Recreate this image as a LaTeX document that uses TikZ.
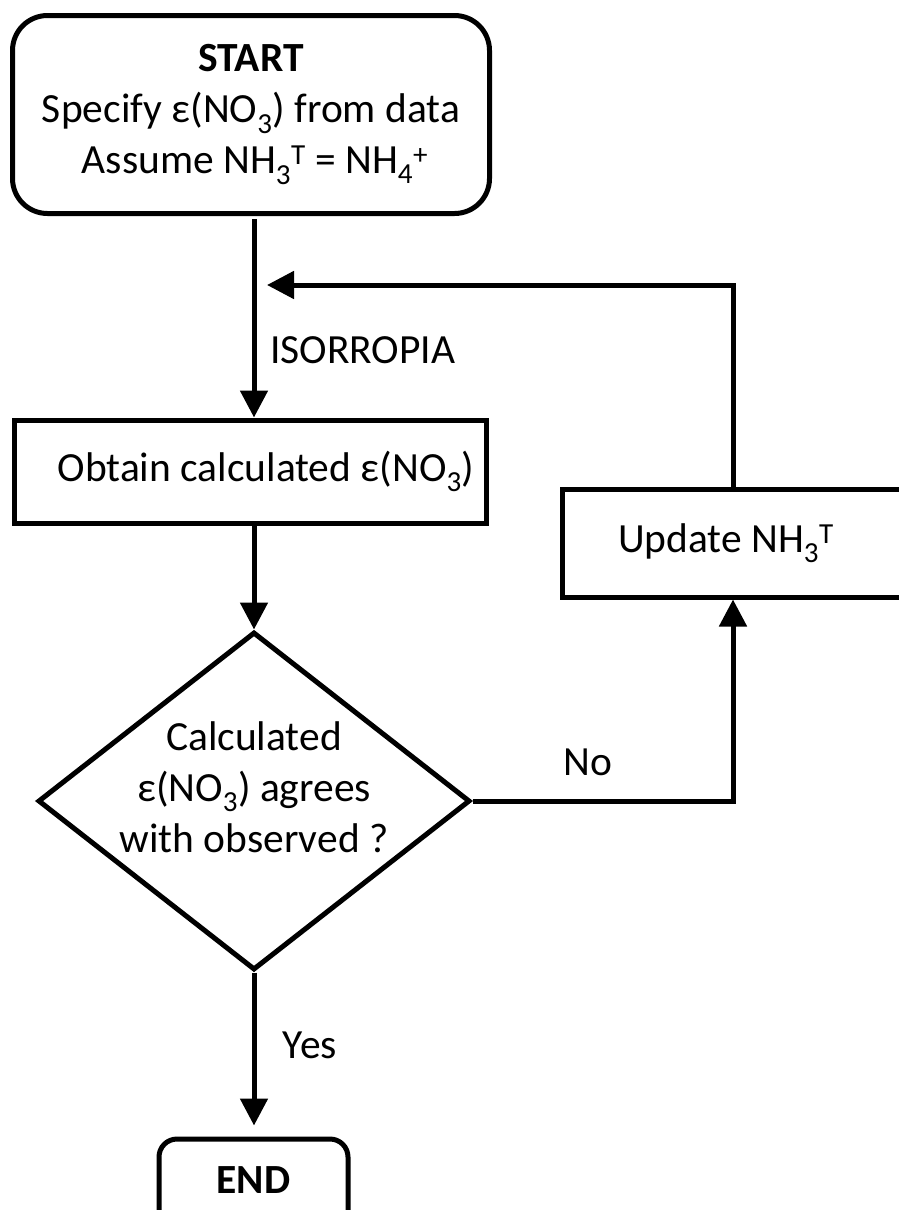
\documentclass[tikz,border=0pt]{standalone}
\usepackage{fontspec}
\setmainfont{Carlito}
\usetikzlibrary{shapes.geometric,arrows.meta}
\begin{document}
\begin{tikzpicture}[x=1pt,y=-1pt,
  box/.style={draw, line width=5pt, inner sep=0pt},
  arr/.style={line width=5pt, -{Triangle[length=27pt,width=27pt]}},
  txt/.style={font=\fontsize{41.5}{51}\selectfont, align=center, inner sep=0pt}]
\useasboundingbox (0,0) rectangle (899,1210);
\clip (0,0) rectangle (899,1210);

\node[box, txt, rounded corners=35pt, minimum width=477pt, minimum height=198pt] (start) at (251,114.5)
  {\textbf{START}\\Specify ε(NO\textsubscript{3}) from data\\\hspace*{8pt}Assume NH\textsubscript{3}\textsuperscript{T} = NH\textsubscript{4}\textsuperscript{+}};

\node[box, txt, minimum width=472pt, minimum height=103pt] (obtain) at (250,471.5)
  {\hspace*{32pt}Obtain calculated ε(NO\textsubscript{3})};

\node[box, diamond, minimum width=432pt, minimum height=338pt] (dec) at (254,801) {};
\node[txt] (dectext) at (254,787) {Calculated\\ε(NO\textsubscript{3}) agrees\\with observed ?};

\node[box, minimum width=400pt, minimum height=108pt] (upd) at (762,543) {};
\node[txt] (updtext) at (726,543) {Update NH\textsubscript{3}\textsuperscript{T}};

\node[box, txt, rounded corners=18pt, minimum width=189pt, minimum height=91pt] (endn) at (253.5,1184.5) {};
\node[txt] (endtext) at (253.5,1180) {\textbf{END}};

\coordinate (fbtip) at (267,285);
\coordinate (fbcorner) at (733,285);
\coordinate (nocorner) at (733,801);

\draw[arr] (start.south -| dec.north) ++(0,3) -- (obtain.north -| dec.north);
\draw[arr] (obtain.south -| dec.north) -- (dec.north);
\draw[arr] (dec.east) -- (nocorner) -- (upd.south -| nocorner);
\draw[arr] (upd.north -| fbcorner) -- (fbcorner) -- (fbtip);
\draw[arr, shorten >=11pt] (dec.south) -- (endn.north -| dec.south);

\node[txt, anchor=west] (iso) at (270,350) {ISORROPIA};
\node[txt] (nolab) at (588,762) {No};
\node[txt] (yeslab) at (310,1045) {Yes};
\end{tikzpicture}
\end{document}
